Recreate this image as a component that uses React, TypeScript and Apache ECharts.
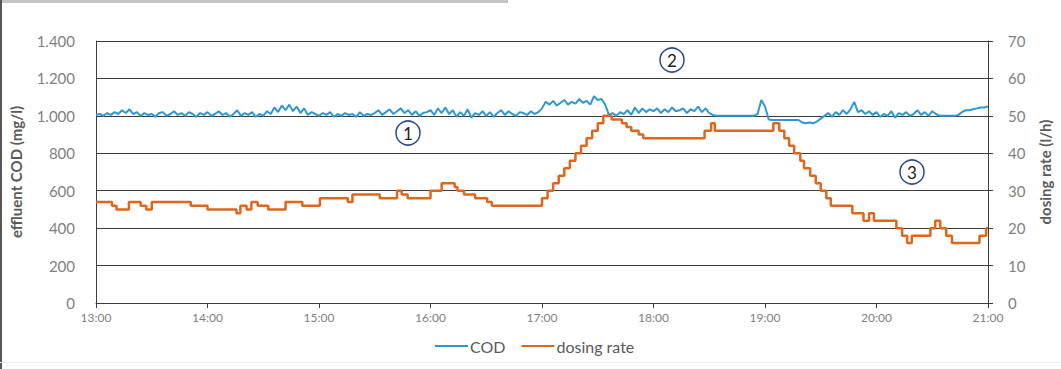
import React, { useEffect, useRef } from "react";
import * as echarts from "echarts";

// COD readings, one every 2 minutes from 13:00 to 21:00 (mg/l)
const codStepMinutes = 2;
const codValues: number[] = [
  // 13:00
  1005, 1010, 1000, 1015, 1005, 1020, 1010, 1030, 1015, 1035, 1010, 1020, 1000, 1015, 1005,
  // 13:30
  1010, 995, 1015, 1020, 1000, 1010, 1025, 1005, 1015, 1000, 1020, 1010, 995, 1015, 1005,
  // 14:00
  1020, 1000, 1010, 1025, 1005, 1015, 995, 1010, 1030, 1000, 1015, 1005, 1020, 995, 1010,
  // 14:30
  1000, 1025, 1010, 1045, 1020, 1055, 1030, 1060, 1025, 1050, 1015, 1040, 1005, 1020, 1010,
  // 15:00
  1000, 1015, 1005, 1020, 995, 1010, 1000, 1015, 1005, 1010, 995, 1020, 1000, 1010, 1005,
  // 15:30
  1015, 1030, 1005, 1020, 1035, 1010, 1025, 1040, 1015, 1030, 1005, 1025, 1000, 1015, 1020,
  // 16:00
  1030, 1005, 1040, 1015, 1045, 1010, 1030, 995, 1020, 1000, 1035, 990, 1015, 1005, 1025,
  // 16:30
  1000, 1020, 995, 1015, 1030, 1005, 1025, 1010, 1000, 1020, 1015, 1005, 1025, 1010, 1020,
  // 17:00
  1040, 1075, 1060, 1080, 1055, 1070, 1085, 1060, 1075, 1065, 1090, 1070, 1080, 1060, 1105,
  // 17:30
  1085, 1090, 1060, 1005, 1015, 1000, 1020, 1010, 1030, 1005, 1045, 1015, 1040, 1020, 1035,
  // 18:00
  1025, 1040, 1015, 1035, 1020, 1045, 1025, 1030, 1040, 1015, 1035, 1025, 1050, 1020, 1040,
  // 18:30
  1015, 1005, 1000, 1000, 1000, 1000, 1000, 1000, 1000, 1000, 1000, 1000, 1000, 1010, 1085,
  // 19:00
  1050, 980, 978, 978, 978, 978, 978, 978, 978, 978, 965, 960, 965, 960, 970,
  // 19:30
  985, 1000, 1015, 995, 1020, 1005, 1030, 1010, 1035, 1075, 1020, 1030, 1010, 1025, 1005,
  // 20:00
  1020, 995, 1010, 1000, 1025, 990, 1015, 1005, 1020, 1000, 1010, 1030, 1005, 1020, 1000,
  // 20:30 .. 21:00
  1025, 1010, 1000, 1000, 1000, 1000, 1000, 1005, 1020, 1030, 1030, 1035, 1040, 1045, 1045, 1050,
];

// Dosing rate steps: minute after 13:00 where a level starts, and the level (l/h)
const doseMinutes: number[] = [
  0, 8.6, 11, 17.7, 24, 27, 30, 51, 60, 75.6, 77.7, 81, 83.6, 87, 92.7, 102, 111, 120.5,
  135.5, 138, 152.7, 162, 164.5, 167.7, 180, 186, 193, 194.5, 198, 204, 210.5, 213,
  240, 243, 246, 249, 252, 255, 258, 261, 264, 267, 270, 273, 277.5, 283, 285.5, 288, 292,
  294.5, 327.5, 331, 333, 364.5, 367.7, 370.4, 373, 375.7, 379, 381, 384.3, 387.3, 390, 393,
  395.4, 407, 413, 416, 418.6, 430.7, 433.8, 436.5, 439, 449, 451.6, 454.3, 457.5, 460.6,
  475.4, 479, 480,
];
const doseValues: number[] = [
  27, 26, 25, 27, 26, 25, 27, 26, 25, 24, 26, 25, 27, 26, 25, 27, 26, 28,
  27, 29, 28, 30, 29, 28, 30, 32, 31, 30, 29, 28, 27, 26,
  28, 30, 32, 34, 36, 38, 40, 42, 44, 46, 48, 50, 49, 48, 47, 46, 45,
  44, 46, 48, 46, 48, 46, 44, 42, 40, 38, 36, 34, 32, 30, 28,
  26, 24, 22, 24, 22, 20, 18, 16, 18, 20, 22, 20, 18, 16,
  18, 20, 20,
];

const xTickLabels: string[] = ["13:00", "14:00", "15:00", "16:00", "17:00", "18:00", "19:00", "20:00", "21:00"];

const FONT = "Lato, 'Open Sans', sans-serif";

export default function App() {
  const ref = useRef<HTMLDivElement>(null);
  useEffect(() => {
    document.body.style.margin = "0";
    if (!ref.current) return;
    const chart = echarts.init(ref.current, undefined, { renderer: "svg" });
    const codData = codValues.map((v, i) => [i * codStepMinutes, v]);
    const doseData = doseMinutes.map((m, i) => [m, doseValues[i]]);
    const gridColor = "#3c3c3c";
    const labelColor = "#7f7f7f";
    const circles = [
      { x: 408, y: 133, t: "1" },
      { x: 672, y: 60, t: "2" },
      { x: 912, y: 172, t: "3" },
    ];
    chart.setOption({
      animation: false,
      textStyle: { fontFamily: FONT },
      grid: { left: 92, right: 73, top: 41, bottom: 66, containLabel: false },
      legend: {
        left: 430,
        top: 333,
        itemGap: 16,
        itemWidth: 33,
        itemHeight: 2,
        icon: "rect",
        textStyle: { color: "#595959", fontSize: 16, fontFamily: FONT, padding: [0, 0, 0, -3] },
        data: ["COD", "dosing rate"],
      },
      xAxis: {
        type: "value",
        min: 0,
        max: 480,
        interval: 60,
        axisLine: { show: true, lineStyle: { color: gridColor, width: 1 } },
        axisTick: { show: true, length: 5, lineStyle: { color: gridColor } },
        splitLine: { show: false },
        axisLabel: {
          color: labelColor,
          fontSize: 12,
          margin: 8,
          formatter: (v: number) => xTickLabels[Math.round(v / 60)] ?? "",
        },
      },
      yAxis: [
        {
          type: "value",
          min: 0,
          max: 1400,
          interval: 200,
          name: "effluent COD (mg/l)",
          nameLocation: "middle",
          nameRotate: 90,
          nameGap: 73,
          nameTextStyle: { color: "#595959", fontSize: 15, fontWeight: "bold", fontFamily: FONT },
          axisLine: { show: true, lineStyle: { color: gridColor, width: 1 } },
          axisTick: { show: false },
          splitLine: { show: true, lineStyle: { color: gridColor, width: 1 } },
          axisLabel: {
            color: labelColor,
            fontSize: 15,
            margin: 21,
            formatter: (v: number) => (v >= 1000 ? `${Math.floor(v / 1000)}.${String(v % 1000).padStart(3, "0")}` : `${v}`),
          },
        },
        {
          type: "value",
          min: 0,
          max: 70,
          interval: 10,
          position: "right",
          name: "dosing rate (l/h)",
          nameLocation: "middle",
          nameRotate: 90,
          nameGap: 49,
          nameTextStyle: { color: "#595959", fontSize: 15, fontWeight: "bold", fontFamily: FONT },
          axisLine: { show: true, lineStyle: { color: gridColor, width: 1 } },
          axisTick: { show: true, length: 5, lineStyle: { color: gridColor } },
          splitLine: { show: false },
          axisLabel: { color: labelColor, fontSize: 15, margin: 20 },
        },
      ],
      series: [
        {
          name: "COD",
          type: "line",
          yAxisIndex: 0,
          data: codData,
          showSymbol: false,
          symbol: "none",
          lineStyle: { color: "#2d98d3", width: 2 },
          itemStyle: { color: "#2d98d3" },
          z: 2,
        },
        {
          name: "dosing rate",
          type: "line",
          yAxisIndex: 1,
          data: doseData,
          step: "end",
          showSymbol: false,
          symbol: "none",
          lineStyle: { color: "#e0661c", width: 2.5 },
          itemStyle: { color: "#e0661c" },
          z: 3,
        },
      ],
      graphic: [
        { type: "rect", left: 0, top: 0, shape: { x: 0, y: 0, width: 508, height: 3 }, style: { fill: "#c4c4c4" } },
        { type: "rect", left: 0, top: 0, shape: { x: 0, y: 0, width: 2, height: 369 }, style: { fill: "#555555" } },
        { type: "rect", left: 0, top: 362, shape: { x: 0, y: 0, width: 1061, height: 1 }, style: { fill: "#eeeeee" } },
        ...circles.flatMap((c) => [
          {
            type: "circle",
            shape: { cx: c.x, cy: c.y, r: 12 },
            style: { fill: "#ffffff", stroke: "#2b4a8b", lineWidth: 1.5 },
            z: 10,
          },
          {
            type: "text",
            x: c.x,
            y: c.y,
            style: { text: c.t, fill: "#222222", font: `17px ${FONT}`, align: "center", verticalAlign: "middle" },
            z: 11,
          },
        ]),
      ],
    });
    return () => chart.dispose();
  }, []);
  return <div ref={ref} style={{ width: 1061, height: 369 }} />;
}
